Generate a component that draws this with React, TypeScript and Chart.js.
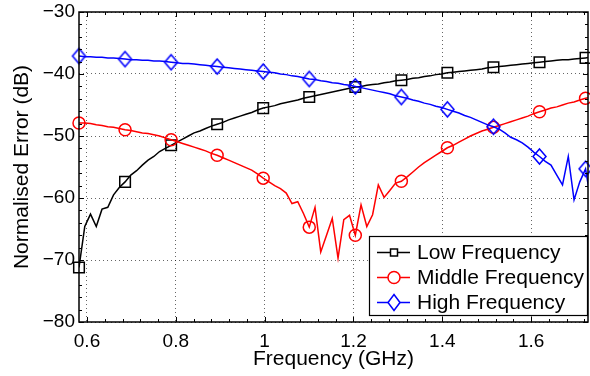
import React, { useEffect, useRef } from 'react';
import { Chart, registerables } from 'chart.js';

Chart.register(...registerables);

// Frequency samples (GHz)
const FREQ = [
  0.5820, 0.5950, 0.6079, 0.6209, 0.6338, 0.6468, 0.6598, 0.6727, 0.6857, 0.6986,
  0.7116, 0.7246, 0.7375, 0.7505, 0.7634, 0.7764, 0.7894, 0.8023, 0.8153, 0.8282,
  0.8412, 0.8542, 0.8671, 0.8801, 0.8930, 0.9060, 0.9190, 0.9319, 0.9449, 0.9578,
  0.9708, 0.9838, 0.9967, 1.0097, 1.0226, 1.0356, 1.0486, 1.0615, 1.0745, 1.0874,
  1.1004, 1.1134, 1.1263, 1.1393, 1.1522, 1.1652, 1.1782, 1.1911, 1.2041, 1.2170,
  1.2300, 1.2430, 1.2559, 1.2689, 1.2818, 1.2948, 1.3078, 1.3207, 1.3337, 1.3466,
  1.3596, 1.3726, 1.3855, 1.3985, 1.4114, 1.4244, 1.4374, 1.4503, 1.4633, 1.4762,
  1.4892, 1.5022, 1.5151, 1.5281, 1.5410, 1.5540, 1.5670, 1.5799, 1.5929, 1.6058,
  1.6188, 1.6318, 1.6447, 1.6577, 1.6706, 1.6836, 1.6966, 1.7095, 1.7225, 1.7354,
];

const LOW = [
  -71.2, -64.6, -62.6, -64.6, -61.8, -61.5, -59.5, -58.3, -57.4, -56.3,
  -55.6, -54.7, -53.9, -53.3, -52.5, -52.0, -51.5, -51.0, -50.5, -50.0,
  -49.5, -49.2, -48.8, -48.4, -48.1, -47.8, -47.4, -47.1, -46.8, -46.5,
  -46.2, -45.8, -45.5, -45.3, -45.1, -44.8, -44.6, -44.4, -44.2, -43.9,
  -43.7, -43.5, -43.3, -43.1, -42.9, -42.7, -42.5, -42.3, -42.1, -42.0,
  -41.8, -41.7, -41.6, -41.4, -41.3, -41.1, -41.0, -40.9, -40.7, -40.6,
  -40.4, -40.3, -40.1, -40.0, -39.8, -39.7, -39.6, -39.5, -39.4, -39.3,
  -39.2, -39.0, -38.9, -38.8, -38.7, -38.6, -38.5, -38.4, -38.3, -38.2,
  -38.1, -38.0, -37.9, -37.8, -37.7, -37.7, -37.6, -37.5, -37.4, -37.3,
];

const MID = [
  -47.9, -47.9, -48.0, -48.2, -48.3, -48.5, -48.6, -48.8, -49.0, -49.1,
  -49.3, -49.5, -49.6, -49.8, -50.0, -50.3, -50.6, -50.9, -51.2, -51.5,
  -51.8, -52.1, -52.4, -52.8, -53.1, -53.5, -53.9, -54.3, -54.7, -55.1,
  -55.5, -56.1, -56.8, -57.4, -58.0, -58.5, -59.2, -60.9, -60.6, -62.5,
  -64.7, -61.5, -68.7, -66.0, -63.3, -69.7, -63.5, -62.8, -66.0, -61.1,
  -64.6, -62.7, -57.9, -59.9, -58.8, -57.6, -57.3, -56.6, -55.8, -55.0,
  -54.3, -53.7, -53.1, -52.5, -51.9, -51.5, -51.0, -50.5, -50.0, -49.6,
  -49.2, -48.9, -48.6, -48.3, -48.0, -47.7, -47.4, -47.1, -46.8, -46.4,
  -46.1, -45.8, -45.5, -45.3, -45.0, -44.7, -44.5, -44.2, -43.9, -43.7,
];

const HIGH = [
  -37.1, -37.2, -37.2, -37.3, -37.3, -37.4, -37.4, -37.5, -37.6, -37.7,
  -37.7, -37.8, -37.8, -37.9, -37.9, -38.0, -38.1, -38.2, -38.3, -38.3,
  -38.4, -38.5, -38.6, -38.7, -38.8, -38.9, -39.0, -39.1, -39.2, -39.3,
  -39.4, -39.5, -39.6, -39.7, -39.8, -40.0, -40.1, -40.3, -40.4, -40.6,
  -40.8, -40.9, -41.1, -41.2, -41.4, -41.5, -41.7, -41.8, -42.0, -42.2,
  -42.4, -42.6, -42.8, -43.0, -43.2, -43.5, -43.7, -43.9, -44.2, -44.4,
  -44.7, -44.9, -45.2, -45.4, -45.7, -46.0, -46.3, -46.7, -47.0, -47.4,
  -47.8, -48.2, -48.5, -48.9, -49.5, -50.2, -50.6, -51.1, -51.8, -52.6,
  -53.3, -54.1, -54.7, -56.3, -57.9, -53.3, -60.3, -57.4, -55.3, -61.0,
];

const SERIES_NAMES = ['Low Frequency', 'Middle Frequency', 'High Frequency'];
const X_TICKS = [0.6, 0.8, 1, 1.2, 1.4, 1.6];
const Y_TICKS = [-80, -70, -60, -50, -40, -30];
const X_MIN = 0.582;
const X_MAX = 1.728;
const Y_MIN = -80;
const Y_MAX = -30;
const MARKER_EVERY = 8;

const FONT = "'Liberation Sans', Arial, Helvetica, sans-serif";
const BLACK = '#000000';
const RED = '#ff0000';
const BLUE = '#0000ff';

function makeDiamond(w: number, h: number, color: string, lw: number) {
  const c = document.createElement('canvas');
  c.width = w + 4;
  c.height = h + 4;
  const g = c.getContext('2d')!;
  const cx = c.width / 2;
  const cy = c.height / 2;
  g.strokeStyle = color;
  g.lineWidth = lw;
  g.beginPath();
  g.moveTo(cx, cy - h / 2);
  g.lineTo(cx + w / 2, cy);
  g.lineTo(cx, cy + h / 2);
  g.lineTo(cx - w / 2, cy);
  g.closePath();
  g.stroke();
  return c;
}

function drawLegendMarker(ctx: CanvasRenderingContext2D, kind: string, x: number, y: number, color: string) {
  ctx.save();
  ctx.strokeStyle = color;
  ctx.lineWidth = 1.5;
  ctx.beginPath();
  if (kind === 'rect') {
    ctx.rect(x - 3.5, y - 3.5, 7, 7);
  } else if (kind === 'circle') {
    ctx.arc(x, y, 6, 0, Math.PI * 2);
  } else {
    ctx.moveTo(x, y - 8);
    ctx.lineTo(x + 6, y);
    ctx.lineTo(x, y + 8);
    ctx.lineTo(x - 6, y);
    ctx.closePath();
  }
  ctx.fillStyle = '#fff';
  ctx.fill();
  ctx.stroke();
  ctx.restore();
}

const axesPlugin = {
  id: 'matlabAxes',
  afterDatasetsDraw(chart: any) {
    const { ctx, chartArea: a, scales } = chart;
    const x = scales.x;
    const y = scales.y;
    ctx.save();
    ctx.strokeStyle = BLACK;
    ctx.lineWidth = 1;
    const major = 5;
    const minor = 3;
    ctx.beginPath();
    for (let k = 0; k < X_TICKS.length; k++) {
      const v0 = X_TICKS[k];
      for (let m = -4; m <= 4; m++) {
        const v = v0 + m * 0.04;
        if (m < 0 && k > 0) continue;
        if (v < X_MIN || v > X_MAX) continue;
        const len = m === 0 ? major : minor;
        const px = Math.round(x.getPixelForValue(v)) + 0.5;
        ctx.moveTo(px, a.bottom);
        ctx.lineTo(px, a.bottom - len);
        ctx.moveTo(px, a.top);
        ctx.lineTo(px, a.top + len);
      }
    }
    for (let k = 0; k < Y_TICKS.length; k++) {
      const v0 = Y_TICKS[k];
      for (let m = 0; m < 5; m++) {
        const v = v0 + m * 2;
        if (v > Y_MAX) continue;
        const len = m === 0 ? major : minor;
        const py = Math.round(y.getPixelForValue(v)) + 0.5;
        ctx.moveTo(a.left, py);
        ctx.lineTo(a.left + len, py);
        ctx.moveTo(a.right, py);
        ctx.lineTo(a.right - len, py);
      }
    }
    ctx.stroke();
    ctx.lineWidth = 1.5;
    ctx.strokeRect(a.left, a.top, a.right - a.left, a.bottom - a.top);
    ctx.restore();
  },
  afterDraw(chart: any) {
    const { ctx, chartArea: a } = chart;
    const w = 219;
    const h = 80;
    const right = a.right;
    const bottom = a.bottom - 6;
    const left = right - w;
    const top = bottom - h;
    ctx.save();
    ctx.fillStyle = '#fff';
    ctx.fillRect(left, top, w, h);
    ctx.strokeStyle = BLACK;
    ctx.lineWidth = 1.2;
    ctx.strokeRect(left + 0.5, top + 0.5, w - 1, h - 1);
    const colors = [BLACK, RED, BLUE];
    const kinds = ['rect', 'circle', 'diamond'];
    for (let i = 0; i < SERIES_NAMES.length; i++) {
      const cy = top + 16.5 + i * 25;
      ctx.strokeStyle = colors[i];
      ctx.lineWidth = 1.5;
      ctx.beginPath();
      ctx.moveTo(left + 8, cy);
      ctx.lineTo(left + 41, cy);
      ctx.stroke();
      drawLegendMarker(ctx, kinds[i], left + 25, cy, colors[i]);
      ctx.fillStyle = BLACK;
      ctx.font = `21px ${FONT}`;
      ctx.textAlign = 'left';
      ctx.textBaseline = 'middle';
      ctx.fillText(SERIES_NAMES[i], left + 48, cy + 1);
    }
    ctx.restore();
  },
};

function zeroPadding(s: any) {
  s.paddingLeft = 0;
  s.paddingRight = 0;
  s.paddingTop = 0;
  s.paddingBottom = 0;
}

export default function App() {
  const ref = useRef<HTMLCanvasElement | null>(null);

  useEffect(() => {
    if (!ref.current) return;
    const pts = (ys: number[]) => FREQ.map((f, i) => ({ x: f, y: ys[i] }));
    const marks = (ys: number[]) => pts(ys).filter((_, i) => i % MARKER_EVERY === 0);
    const diamond = makeDiamond(13, 15, BLUE, 1.5);

    const lineDs = (label: string, ys: number[], color: string, order: number) => ({
      label,
      data: pts(ys),
      borderColor: color,
      backgroundColor: color,
      borderWidth: 1.5,
      pointRadius: 0,
      tension: 0,
      fill: false,
      order,
    });
    const markDs = (label: string, ys: number[], color: string, style: any, radius: number, order: number) => ({
      label,
      data: marks(ys),
      showLine: false,
      pointStyle: style,
      pointRadius: radius,
      pointBorderColor: color,
      pointBackgroundColor: 'rgba(0,0,0,0)',
      pointBorderWidth: 1.5,
      clip: false,
      order,
    });

    const chart = new Chart(ref.current, {
      type: 'line',
      data: {
        datasets: [
          lineDs(SERIES_NAMES[2], HIGH, BLUE, 0),
          markDs(SERIES_NAMES[2] + ' markers', HIGH, BLUE, diamond, 7, 0),
          lineDs(SERIES_NAMES[1], MID, RED, 1),
          markDs(SERIES_NAMES[1] + ' markers', MID, RED, 'circle', 6, 1),
          lineDs(SERIES_NAMES[0], LOW, BLACK, 2),
          markDs(SERIES_NAMES[0] + ' markers', LOW, BLACK, 'rect', 7.5, 2),
        ] as any,
      },
      options: {
        responsive: false,
        animation: false,
        devicePixelRatio: 1,
        layout: { autoPadding: false, padding: { left: 0, right: 2, top: 12, bottom: 0 } },
        plugins: {
          legend: { display: false },
          tooltip: { enabled: false },
        },
        scales: {
          x: {
            type: 'linear',
            min: X_MIN,
            max: X_MAX,
            afterBuildTicks: (s: any) => {
              s.ticks = X_TICKS.map((v) => ({ value: v }));
            },
            afterFit: (s: any) => {
              s.height = 54;
              zeroPadding(s);
            },
            ticks: {
              font: { family: FONT, size: 19 },
              color: BLACK,
              padding: 8,
              maxRotation: 0,
              autoSkip: false,
              callback: (v: any) => String(v),
            },
            grid: { color: 'rgba(0,0,0,0.6)', lineWidth: 1, drawTicks: false },
            border: { display: false, dash: [1, 3] },
            title: {
              display: true,
              text: 'Frequency (GHz)',
              font: { family: FONT, size: 21 },
              color: BLACK,
              padding: { top: 0, bottom: 4 },
            },
          },
          y: {
            type: 'linear',
            min: Y_MIN,
            max: Y_MAX,
            afterBuildTicks: (s: any) => {
              s.ticks = Y_TICKS.map((v) => ({ value: v }));
            },
            afterFit: (s: any) => {
              s.width = 79;
              zeroPadding(s);
            },
            ticks: {
              font: { family: FONT, size: 19 },
              color: BLACK,
              padding: 4,
              autoSkip: false,
              callback: (v: any) => String(v).replace('-', '\u2212'),
            },
            grid: { color: 'rgba(0,0,0,0.6)', lineWidth: 1, drawTicks: false },
            border: { display: false, dash: [1, 3] },
            title: {
              display: true,
              text: 'Normalised Error (dB)',
              font: { family: FONT, size: 21 },
              color: BLACK,
              padding: { top: 10, bottom: 0 },
            },
          },
        },
      } as any,
      plugins: [axesPlugin],
    });
    return () => chart.destroy();
  }, []);

  return (
    <div style={{ position: 'absolute', left: 0, top: 0, width: 590, height: 376, background: '#fff' }}>
      <canvas ref={ref} width={590} height={376} style={{ display: 'block' }} />
    </div>
  );
}
